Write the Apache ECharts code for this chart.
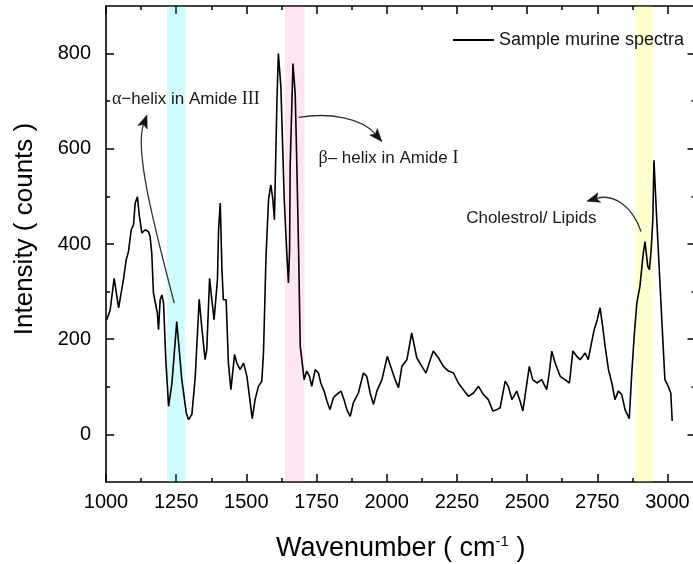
<!DOCTYPE html>
<html><head><meta charset="utf-8">
<script src="https://cdn.jsdelivr.net/npm/echarts@6/dist/echarts.min.js"></script>
<style>html,body{margin:0;padding:0;background:#fff}#c{width:693px;height:564px}</style>
</head><body><div id="c"></div>
<script>
// ---- data ----
const wavenumber = [1003,1015,1029,1045,1062,1072,1080,1090,1098,1104,1112,1119,1128,1140,1151,1157,1163,1169,1175,1183,
1187,1193,1199,1205,1213,1223,1235,1252,1270,1286,1294,1306,1318,1332,1342,1353,1359,1369,1377,1385,
1397,1401,1407,1413,1418,1428,1436,1445,1458,1466,1478,1490,1502,1511,1521,1531,1543,1555,1561,1570,
1579,1587,1594,1600,1609,1614,1623,1635,1644,1650,1654,1656,1666,1674,1680,1686,1692,1706,1715,1725,
1733,1745,1757,1765,1777,1787,1798,1810,1822,1837,1848,1858,1870,1881,1899,1917,1929,1941,1953,1965,
1983,2002,2018,2030,2042,2054,2072,2089,2107,2125,2140,2155,2166,2184,2202,2220,2238,2255,2273,2291,
2309,2327,2344,2362,2378,2392,2404,2422,2433,2446,2463,2475,2485,2496,2508,2520,2535,2552,2570,2579,
2588,2600,2618,2635,2651,2663,2677,2689,2707,2718,2727,2739,2750,2760,2770,2778,2790,2802,2813,2825,
2837,2849,2864,2873,2882,2891,2902,2914,2920,2930,2936,2942,2948,2952,2962,2980,2991,3003,3012,3017];
const intensity = [241,262,328,266,325,367,384,430,440,486,499,458,423,430,426,416,381,297,293,255,
220,283,293,276,157,59,108,237,115,45,31,42,122,284,220,157,178,328,283,241,
325,430,486,346,283,283,150,94,168,150,136,150,122,80,33,73,101,112,171,374,
493,524,496,451,702,800,730,493,381,318,388,562,779,716,562,388,185,115,133,122,
101,136,129,108,91,70,52,77,84,91,73,52,38,66,87,129,122,87,63,91,
115,164,136,115,98,143,157,213,161,143,129,157,175,161,143,133,129,108,94,80,
87,101,84,73,49,52,56,112,101,73,91,70,49,94,143,115,108,115,94,129,
175,150,122,115,108,175,164,157,171,157,185,220,241,266,224,185,136,108,73,91,
84,52,33,129,210,276,311,381,405,353,346,388,451,576,451,241,115,101,87,28];
const seriesName = 'Sample murine spectra';
const bandRanges = [[1217,1282],[1638,1707],[2887,2948]];
const yMajorTicks = [0,200,400,600,800];
const yMinorTicks = [100,300,500,700];

// ---- styling ----
const FONT = 'Liberation Sans';
const SERIF = 'Liberation Serif';
const bandColors = ['rgba(0,240,240,0.18)','rgba(255,100,180,0.17)','rgba(255,255,0,0.19)'];
const AX = {color:'#000', width:1.6};
const plain = v => String(v);

function xAxisDef(pos, interval, len, main){
  return {type:'value', min:1000, max:3100, interval:interval, position:pos,
    axisLine:{show:main, onZero:false, lineStyle:AX},
    axisTick:{show:true, inside:true, length:len, lineStyle:{color:'#000', width:1.5}},
    axisLabel:{show:main && pos==='bottom', formatter:plain, fontSize:20, fontFamily:FONT, color:'#000', margin:10, showMaxLabel:false},
    splitLine:{show:false}};
}
function yAxisDef(pos, ticks, len, main){
  return {type:'value', min:-100, max:900, position:pos,
    axisLine:{show:main, onZero:false, lineStyle:AX},
    axisTick:{show:true, inside:true, length:len, customValues:ticks, lineStyle:{color:'#000', width:1.5}},
    axisLabel:{show:main && pos==='left', customValues:yMajorTicks, formatter:plain, fontSize:20, fontFamily:FONT, color:'#000', margin:15},
    splitLine:{show:false}};
}

const xAxes = [xAxisDef('bottom',250,8,true), xAxisDef('bottom',125,4,false), xAxisDef('top',250,8,true), xAxisDef('top',125,4,false)];
xAxes[0].name = '{a|Wavenumber ( cm}{s|-1}{a| )}';
xAxes[0].nameLocation = 'middle';
xAxes[0].nameGap = 52;
xAxes[0].nameTextStyle = {rich:{a:{fontSize:27, fontFamily:FONT, color:'#000', lineHeight:30}, s:{fontSize:15, fontFamily:FONT, color:'#000', verticalAlign:'top', lineHeight:16}}};
const yAxes = [yAxisDef('left',yMajorTicks,8,true), yAxisDef('left',yMinorTicks,4,false), yAxisDef('right',yMajorTicks,8,true), yAxisDef('right',yMinorTicks,4,false)];
yAxes[0].name = 'Intensity ( counts )';
yAxes[0].nameLocation = 'middle';
yAxes[0].nameGap = 68;
yAxes[0].nameTextStyle = {fontSize:26, fontFamily:FONT, color:'#000', padding:[0,0,0,30]};

const chart = echarts.init(document.getElementById('c'), null, {renderer:'canvas'});
chart.setOption({
  animation:false,
  backgroundColor:'#fff',
  grid:{left:106, right:-2.5, top:6, bottom:82, outerBoundsMode:'none', containLabel:false},
  legend:{data:[seriesName], left:448, top:26, icon:'rect', itemWidth:41, itemHeight:2,
    itemStyle:{color:'#000'}, textStyle:{fontSize:18, fontFamily:FONT, color:'#111'}},
  xAxis:xAxes,
  yAxis:yAxes,
  series:[
    {type:'line', name:seriesName, xAxisIndex:0, yAxisIndex:0, data:wavenumber.map((x,i)=>[x,intensity[i]]),
     symbol:'none', showSymbol:false, lineStyle:{color:'#000', width:1.6}, itemStyle:{color:'#000'}, z:2, silent:true},
    {type:'line', name:'bands', xAxisIndex:0, yAxisIndex:0, data:[], z:3, silent:true,
     markArea:{silent:true, data:bandRanges.map((r,i)=>[{xAxis:r[0], itemStyle:{color:bandColors[i]}},{xAxis:r[1]}])}}
  ]
});

// ---- annotations (anchored in data coordinates) ----
const annotations = [
  {text:'{g|α}−helix in Amide {g|III}', at:[1021,704], arrow:[[1243,276],[1175,430],[1100,597],[1146,671]]},
  {text:'{g|β}– helix in Amide {g|I}', at:[1757,580], arrow:[[1686,666],[1798,677],[1912,664],[1983,615]]},
  {text:'Cholestrol/ Lipids', at:[2283,454], arrow:[[2906,426],[2877,476],[2813,507],[2713,490]]}
];
const P = p => chart.convertToPixel({xAxisIndex:0, yAxisIndex:0}, p);
const graphics = [];
annotations.forEach(a => {
  const t = P(a.at);
  graphics.push({type:'text', x:t[0], y:t[1], z:10, silent:true,
    style:{text:a.text, fontSize:17, fontFamily:FONT, fill:'#1a1a1a', align:'left', verticalAlign:'middle',
      rich:{g:{fontSize:18, fontFamily:SERIF, fill:'#1a1a1a'}}}});
  const [p0,c1,c2,p3] = a.arrow.map(P);
  let dx = p3[0]-c2[0], dy = p3[1]-c2[1];
  const L = Math.hypot(dx,dy); dx/=L; dy/=L;
  const len = 13, w = 5;
  const bx = p3[0]-dx*len, by = p3[1]-dy*len;
  graphics.push({type:'bezierCurve', z:10, silent:true,
    shape:{x1:p0[0], y1:p0[1], cpx1:c1[0], cpy1:c1[1], cpx2:c2[0], cpy2:c2[1], x2:bx+dx*3, y2:by+dy*3},
    style:{stroke:'#333', lineWidth:1.3, fill:null}});
  graphics.push({type:'polygon', z:10, silent:true,
    shape:{points:[[p3[0],p3[1]],[bx-dy*w,by+dx*w],[bx+dx*3,by+dy*3],[bx+dy*w,by-dx*w]]},
    style:{fill:'#111', stroke:'#111', lineWidth:0.5}});
});
chart.setOption({graphic:graphics});
</script>
</body></html>
